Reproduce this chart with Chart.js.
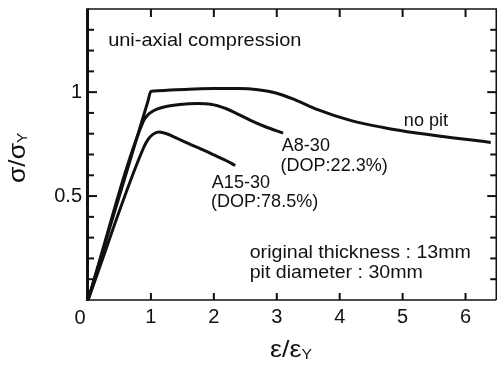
<!DOCTYPE html>
<html><head><meta charset="utf-8">
<script src="https://cdn.jsdelivr.net/npm/chart.js@4/dist/chart.umd.min.js"></script>
<style>html,body{margin:0;padding:0;background:#fff;}canvas{display:block;}</style>
</head><body>
<canvas id="c" width="497" height="367"></canvas>
<script>
// ---- data ----
const noPitX = [0, 0.95, 1.0, 1.05, 1.3, 1.6, 2.0, 2.4, 2.7, 3.0, 3.3, 3.65, 4.17, 4.69, 5.22, 5.75, 6.1, 6.4];
const noPitY = [0, 0.954, 1.004, 1.006, 1.01, 1.014, 1.017, 1.018, 1.012, 0.995, 0.962, 0.916, 0.864, 0.83, 0.803, 0.782, 0.77, 0.758];
const a8X = [0, 0.88, 0.95, 1.05, 1.15, 1.46, 1.75, 1.95, 2.2, 2.4, 2.6, 2.8, 3.1];
const a8Y = [0, 0.86, 0.89, 0.912, 0.924, 0.94, 0.945, 0.942, 0.92, 0.892, 0.862, 0.836, 0.803];
const a15X = [0, 0.88, 0.95, 1.03, 1.13, 1.25, 1.4, 1.6, 1.8, 2.0, 2.2, 2.34];
const a15Y = [0, 0.73, 0.77, 0.797, 0.808, 0.8, 0.78, 0.752, 0.726, 0.698, 0.670, 0.647];
const xTickValues = [0, 1, 2, 3, 4, 5, 6];
const yTickValues = [0.5, 1];
const yMinorValues = [0.1, 0.2, 0.3, 0.4, 0.5, 0.6, 0.7, 0.8, 0.9, 1.0, 1.1, 1.2, 1.3];
const annotations = [
  {text: 'uni-axial compression', x: 0.32, y: 1.221, size: 18.5, sx: 1.08},
  {text: 'no pit', x: 5.02, y: 0.838, size: 17.5},
  {text: 'A8-30', x: 3.08, y: 0.715, size: 17.5},
  {text: '(DOP:22.3%)', x: 3.06, y: 0.62, size: 17.5},
  {text: 'A15-30', x: 1.968, y: 0.538, size: 17.5},
  {text: '(DOP:78.5%)', x: 1.955, y: 0.447, size: 17.5},
  {text: 'original thickness : 13mm', x: 2.57, y: 0.204, size: 17.5, sx: 1.12},
  {text: 'pit diameter : 30mm', x: 2.57, y: 0.105, size: 17.5, sx: 1.12}
];

const FONT = "'Liberation Sans', Arial, Helvetica, sans-serif";
const INK = '#111';
const toPts = (xs, ys) => xs.map((x, i) => ({x: x, y: ys[i]}));

const framePlugin = {
  id: 'frame',
  afterDraw(chart) {
    const ctx = chart.ctx, xs = chart.scales.x, ys = chart.scales.y;
    const L = xs.getPixelForValue(0), R = Math.min(xs.getPixelForValue(6.5), chart.width - 0.75);
    const B = ys.getPixelForValue(0), T = ys.getPixelForValue(1.4);
    ctx.save();
    ctx.strokeStyle = INK;
    ctx.lineCap = 'butt';
    ctx.lineWidth = 3;
    ctx.beginPath(); ctx.moveTo(L - 0.5, T - 0.75); ctx.lineTo(L - 0.5, B + 1); ctx.stroke();
    ctx.lineWidth = 1.5;
    ctx.beginPath(); ctx.moveTo(L, B); ctx.lineTo(R, B); ctx.stroke();
    ctx.beginPath(); ctx.moveTo(L, T); ctx.lineTo(R, T); ctx.lineTo(R, B); ctx.stroke();
    ctx.lineWidth = 2;
    yMinorValues.forEach(v => {
      const p = ys.getPixelForValue(v);
      const len = (Math.abs(v - 0.5) < 1e-9 || Math.abs(v - 1) < 1e-9) ? 9 : 6;
      ctx.beginPath(); ctx.moveTo(L, p); ctx.lineTo(L + len, p); ctx.stroke();
      ctx.beginPath(); ctx.moveTo(R, p); ctx.lineTo(R - len, p); ctx.stroke();
    });
    xTickValues.slice(1).forEach(v => {
      const p = xs.getPixelForValue(v);
      ctx.beginPath(); ctx.moveTo(p, B); ctx.lineTo(p, B - 7); ctx.stroke();
      ctx.beginPath(); ctx.moveTo(p, T); ctx.lineTo(p, T + 8); ctx.stroke();
    });
    ctx.fillStyle = INK;
    ctx.font = '20px ' + FONT;
    ctx.textAlign = 'center';
    ctx.textBaseline = 'alphabetic';
    ctx.fillText('0', L - 8, B + 24);
    annotations.forEach(a => {
      const px = xs.getPixelForValue(a.x), py = ys.getPixelForValue(a.y);
      ctx.save();
      ctx.translate(px, py);
      ctx.scale(a.sx || 1.03, 1);
      ctx.font = a.size + 'px ' + FONT;
      ctx.textAlign = 'left';
      ctx.textBaseline = 'alphabetic';
      ctx.fillText(a.text, 0, 0);
      ctx.restore();
    });
    ctx.save();
    ctx.translate(270, 357);
    ctx.scale(1.12, 1);
    ctx.font = '24px ' + FONT;
    ctx.textAlign = 'left';
    ctx.fillText('ε/ε', 0, 0);
    let w = ctx.measureText('ε/ε').width;
    ctx.font = '14px ' + FONT;
    ctx.fillText('Y', w, 1.5);
    ctx.restore();
    ctx.save();
    ctx.translate(25, 183);
    ctx.rotate(-Math.PI / 2);
    ctx.scale(1.1, 1);
    ctx.font = '24px ' + FONT;
    ctx.textAlign = 'left';
    ctx.fillText('σ/σ', 0, 0);
    w = ctx.measureText('σ/σ').width;
    ctx.font = '14px ' + FONT;
    ctx.fillText('Y', w, 1.5);
    ctx.restore();
    ctx.restore();
  }
};

const lineDs = (xs, ys) => ({
  data: toPts(xs, ys), showLine: true, pointRadius: 0, borderColor: INK,
  borderWidth: 3, cubicInterpolationMode: 'monotone', fill: false
});

new Chart(document.getElementById('c'), {
  type: 'scatter',
  data: { datasets: [lineDs(noPitX, noPitY), lineDs(a8X, a8Y), lineDs(a15X, a15Y)] },
  options: {
    responsive: false, animation: false, devicePixelRatio: 1,
    layout: { padding: { top: 9, right: 0, left: 0, bottom: 0 } },
    plugins: { legend: { display: false }, tooltip: { enabled: false } },
    scales: {
      x: {
        type: 'linear', min: 0, max: 6.5,
        grid: { display: false, drawTicks: false, tickLength: 0 }, border: { display: false },
        afterBuildTicks: s => { s.ticks = xTickValues.map(v => ({value: v})); },
        afterFit: s => { s.height = 67; s.paddingLeft = 0; s.paddingRight = 0; },
        ticks: { color: INK, font: { size: 20, family: FONT }, padding: 5,
                 maxRotation: 0, autoSkip: false,
                 callback: v => (v === 0 ? '' : String(v)) }
      },
      y: {
        type: 'linear', min: 0, max: 1.4,
        grid: { display: false, drawTicks: false, tickLength: 0 }, border: { display: false },
        afterBuildTicks: s => { s.ticks = yTickValues.map(v => ({value: v})); },
        afterFit: s => { s.width = 88; s.paddingTop = 0; s.paddingBottom = 0; },
        ticks: { color: INK, font: { size: 20, family: FONT }, padding: 6,
                 callback: v => String(v) }
      }
    }
  },
  plugins: [framePlugin]
});
</script>
</body></html>
